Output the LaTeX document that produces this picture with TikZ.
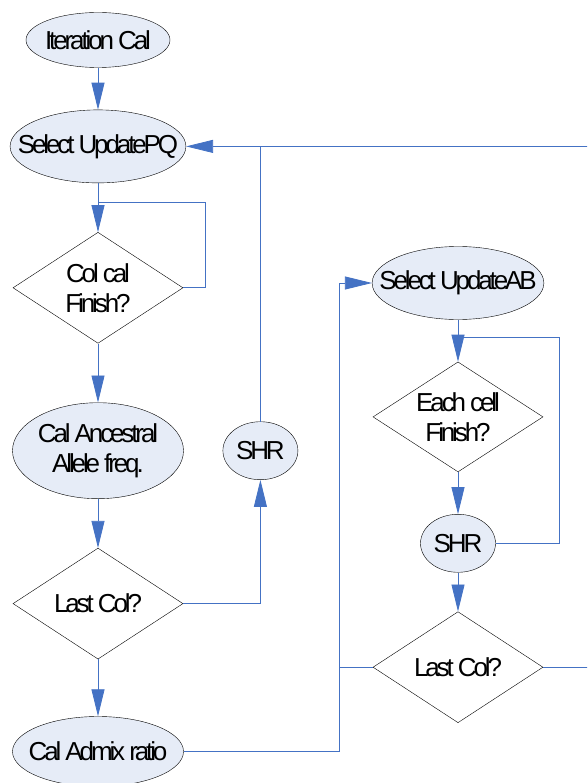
\documentclass[tikz,border=0pt]{standalone}
\usepackage{fontspec}
\setmainfont{Liberation Sans}[LetterSpace = -12]
\usepackage{tikz}
\usepackage{xcolor}
\usetikzlibrary{shapes.geometric,arrows.meta,positioning}

\definecolor{flowblue}{RGB}{68,114,196}
\definecolor{termfill}{RGB}{230,236,247}

\begin{document}
\begin{tikzpicture}[x = 1pt, y = 1pt,
        term/.style = {ellipse, draw, fill = termfill, inner xsep = -18pt, inner ysep = 0pt,
            minimum width = 171pt, minimum height = 73pt,
            font = \fontsize{26}{30}\selectfont, align = center},
        cond/.style = {diamond, draw, fill = white, aspect = 1.53, inner sep = 0pt,
            minimum width = 170pt, minimum height = 111pt,
            font = \fontsize{26}{30}\selectfont, align = center},
        flow/.style = {color = flowblue, line width = 0.8pt, -{Triangle[length = 27pt, width = 13pt]}},
        link/.style = {color = flowblue, line width = 0.8pt}]
        \useasboundingbox (0,0) rectangle (587,-783);
        \clip (0,0) rectangle (587,-783);

        % left column
        \node [term, minimum width = 144pt, minimum height = 55pt] (iter) at (98,-40) {Iteration Cal};
        \node [term] (selPQ) [below = 42pt of iter] {Select UpdatePQ};
        \node [cond] (colcal) [below = 49pt of selPQ] {Col cal\\Finish?};
        \node [term, minimum height = 96pt] (anc) [below = 59pt of colcal] {Cal Ancestral\\Allele freq.};
        \node [cond] (lastA) [below = 49pt of anc] {Last Col?};
        \node [term, minimum height = 70pt] (admix) [below = 57pt of lastA] {Cal Admix ratio};
        \node [term, minimum width = 75pt, minimum height = 58pt] (shrA) [right = 39pt of anc] {SHR};

        % right column
        \node [term] (selAB) at (458,-283) {Select UpdateAB};
        \node [cond, minimum height = 110pt] (each) [below = 42pt of selAB] {Each cell\\Finish?};
        \node [term, minimum width = 75pt, minimum height = 58pt] (shrB) [below = 42pt of each] {SHR};
        \node [cond] (lastB) [below = 39pt of shrB] {Last Col?};

        % joints
        \coordinate [below = 19pt of selPQ.south] (jA);
        \coordinate (jB) at (shrA |- selPQ.east);
        \coordinate [left = 33pt of lastB.west] (jC);
        \coordinate [below = 18pt of selAB.south] (jD);

        \path[flow]
            (iter) edge (selPQ)
            (selPQ) edge (colcal)
            (colcal) edge (anc)
            (anc) edge (lastA)
            (lastA) edge (admix)
            (selAB) edge (each)
            (each) edge (shrB)
            (shrB) edge (lastB);

        \draw[flow] (lastA.east) -| (shrA.south);
        \draw[flow] (shrA.north) |- (selPQ.east);
        \draw[flow] (admix.east) -| (jC) |- (selAB.west);

        \draw[link] (colcal.east) -- ++(22,0) |- (jA);
        \draw[link] (shrB.east) -- ++(64,0) |- (jD);
        \draw[link] (lastB.west) -- (jC);
        \draw[link] (lastB.east) -- ++(60,0) |- (jB);
    \end{tikzpicture}
\end{document}
